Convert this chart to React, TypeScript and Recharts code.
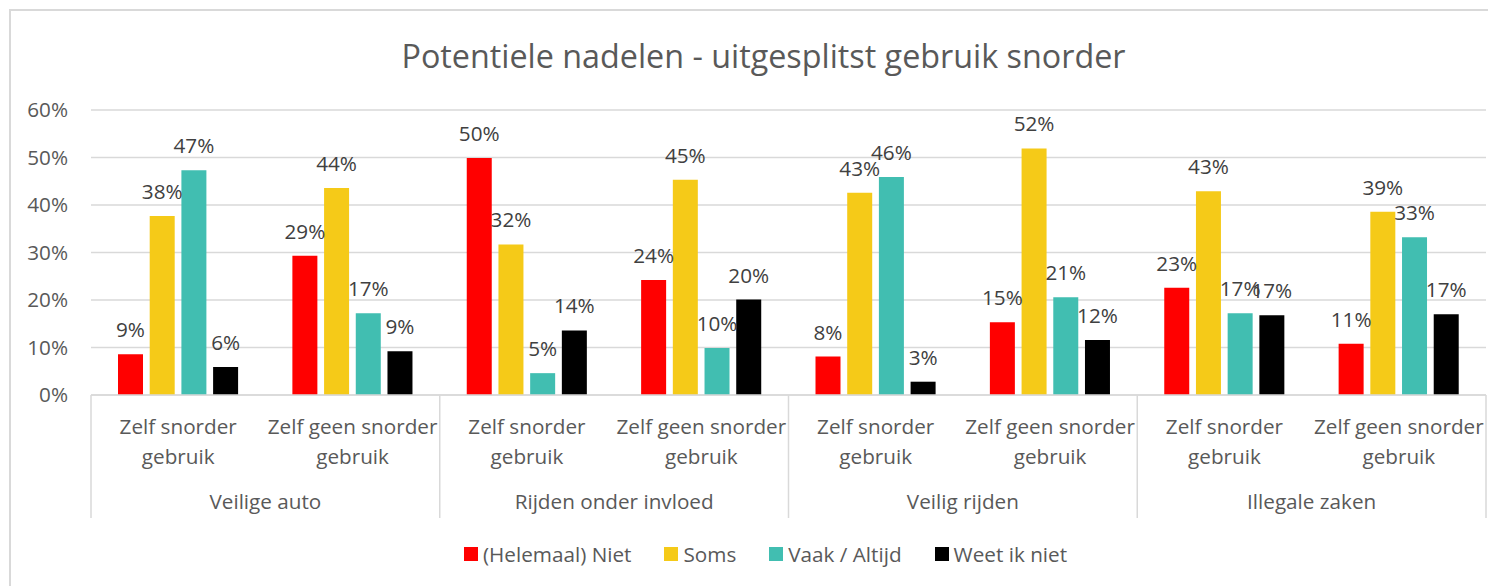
import React from 'react';
import { BarChart, Bar, XAxis, YAxis, CartesianGrid, LabelList, Legend } from 'recharts';

const subLabels = ['Zelf snorder gebruik', 'Zelf geen snorder gebruik'];
const groups = ['Veilige auto', 'Rijden onder invloed', 'Veilig rijden', 'Illegale zaken'];
const seriesNames = ['(Helemaal) Niet', 'Soms', 'Vaak / Altijd', 'Weet ik niet'];
const seriesColors = ['#FF0000', '#F5CA18', '#41BEB1', '#000000'];

const helemaalNiet = [8.6, 29.3, 49.9, 24.2, 8.1, 15.3, 22.6, 10.8];
const soms = [37.7, 43.6, 31.7, 45.3, 42.6, 51.9, 42.9, 38.6];
const vaakAltijd = [47.3, 17.2, 4.6, 9.9, 45.9, 20.6, 17.2, 33.2];
const weetNiet = [5.9, 9.2, 13.6, 20.1, 2.8, 11.6, 16.8, 17.0];

const yTicks = [0, 10, 20, 30, 40, 50, 60];

const seriesValues = [helemaalNiet, soms, vaakAltijd, weetNiet];

const data = groups.flatMap((g, gi) =>
  subLabels.map((s, si) => {
    const i = gi * 2 + si;
    const row: any = { key: `${g}|${s}`, group: g, sub: s };
    seriesNames.forEach((n, k) => {
      row[`s${k}`] = seriesValues[k][i];
    });
    return row;
  })
);

const FONT = '"Open Sans", sans-serif';
const FS = 20.7;
const AXIS_COLOR = '#595959';
const LINE_COLOR = '#D9D9D9';

const CatTick = (props: any) => {
  const { x, y, payload, index } = props;
  const half = payload && typeof payload.offset === 'number' && payload.offset > 0 ? payload.offset : 87.1875;
  const [group, sub] = String(payload.value).split('|');
  const words = sub.split(' ');
  const line2 = words.pop();
  const line1 = words.join(' ');
  const isFirst = index % 2 === 0;
  const isLast = index === data.length - 1;
  return (
    <g>
      <text x={x} y={y + 39} textAnchor="middle" fill={AXIS_COLOR} fontSize={FS} fontFamily={FONT}>
        {line1}
      </text>
      <text x={x} y={y + 69} textAnchor="middle" fill={AXIS_COLOR} fontSize={FS} fontFamily={FONT}>
        {line2}
      </text>
      {isFirst && (
        <>
          <line x1={x - half} x2={x - half} y1={y} y2={y + 123} stroke={LINE_COLOR} strokeWidth={1.5} />
          <text x={x + half} y={y + 114} textAnchor="middle" fill={AXIS_COLOR} fontSize={FS} fontFamily={FONT}>
            {group}
          </text>
        </>
      )}
      {isLast && <line x1={x + half} x2={x + half} y1={y} y2={y + 123} stroke={LINE_COLOR} strokeWidth={1.5} />}
    </g>
  );
};

const LegendContent = () => (
  <div style={{ display: 'flex', alignItems: 'center', marginLeft: 464, fontFamily: FONT }}>
    {seriesNames.map((n, k) => (
      <div key={n} style={{ display: 'flex', alignItems: 'center', marginRight: 33 }}>
        <span style={{ width: 14, height: 14, background: seriesColors[k], display: 'inline-block', marginRight: 5 }} />
        <span style={{ fontSize: FS, lineHeight: '24px', color: AXIS_COLOR }}>{n}</span>
      </div>
    ))}
  </div>
);

export default function App() {
  return (
    <div style={{ position: 'absolute', left: 0, top: 0, width: 1488, height: 586, overflow: 'hidden', background: '#fff' }}>
      <div
        style={{
          position: 'absolute',
          left: 9,
          top: 9,
          width: 1480,
          height: 580,
          borderLeft: `2px solid ${LINE_COLOR}`,
          borderTop: `2px solid ${LINE_COLOR}`,
        }}
      />
      <div
        style={{
          position: 'absolute',
          left: 0,
          top: 33,
          width: 1527,
          textAlign: 'center',
          fontFamily: FONT,
          fontSize: 32.3,
          lineHeight: '44px',
          color: AXIS_COLOR,
          zIndex: 2,
        }}
      >
        Potentiele nadelen - uitgesplitst gebruik snorder
      </div>
      <div style={{ position: 'absolute', left: 0, top: 0 }}>
        <BarChart
          width={1488}
          height={586}
          data={data}
          margin={{ top: 110, right: 2, left: 0, bottom: 0 }}
          barSize={25}
          barGap={6.7}
        >
          <CartesianGrid vertical={false} stroke={LINE_COLOR} strokeWidth={1.5} />
          <XAxis
            dataKey="key"
            height={191}
            interval={0}
            tickLine={false}
            tickSize={0}
            tickMargin={0}
            axisLine={{ stroke: LINE_COLOR, strokeWidth: 1.5 }}
            tick={<CatTick />}
          />
          <YAxis
            width={91}
            domain={[0, 60]}
            ticks={yTicks}
            interval={0}
            axisLine={false}
            tickLine={false}
            tickSize={0}
            tickMargin={23}
            tickFormatter={(v: number) => `${v}%`}
            tick={{ fill: AXIS_COLOR, fontSize: FS, fontFamily: FONT }}
          />
          <Legend
            verticalAlign="middle"
            align="center"
            layout="horizontal"
            wrapperStyle={{ top: 542, left: 0, width: 1488 }}
            content={<LegendContent />}
          />
          {seriesNames.map((n, k) => (
            <Bar key={n} dataKey={`s${k}`} name={n} fill={seriesColors[k]} isAnimationActive={false}>
              <LabelList
                dataKey={`s${k}`}
                position="top"
                offset={17}
                formatter={(v: any) => `${Math.round(Number(v))}%`}
                style={{ fill: '#404040', fontSize: FS, fontFamily: FONT }}
              />
            </Bar>
          ))}
        </BarChart>
      </div>
    </div>
  );
}
